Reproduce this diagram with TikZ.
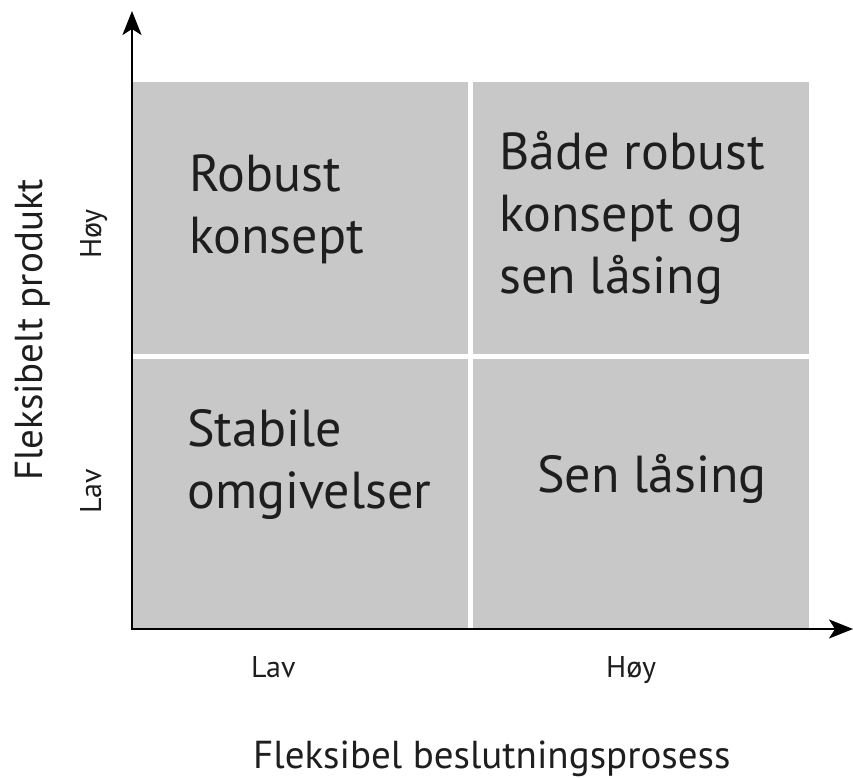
\documentclass[tikz,border=0pt]{standalone}
\usepackage{fontspec}
\setmainfont{PT Sans}
\usetikzlibrary{arrows.meta}
\definecolor{quadgrey}{RGB}{200,200,200}
\definecolor{inktext}{RGB}{30,30,30}
\tikzset{
  quadrant/.style={fill=quadgrey, draw=none},
  axis/.style={line width=2.2pt, draw=black, -{Stealth[length=24pt,width=19pt,inset=6pt]}},
  bigtext/.style={font=\fontsize{52}{62}\selectfont, text=inktext, inner sep=0pt, anchor=base west, align=left},
  ticklabel/.style={font=\fontsize{30}{34}\selectfont, text=inktext, inner sep=0pt},
  axislabel/.style={font=\fontsize{39}{44}\selectfont, text=inktext, inner sep=0pt},
}
\begin{document}
\begin{tikzpicture}[x=1pt,y=-1pt]
  \useasboundingbox (0,0) rectangle (853,778);
  % four grey quadrants separated by white gaps
  \fill[quadrant] (133,82) rectangle (467.5,353.5);
  \fill[quadrant] (472.5,82) rectangle (809,353.5);
  \fill[quadrant] (133,358.5) rectangle (467.5,628);
  \fill[quadrant] (472.5,358.5) rectangle (809,628);

  % axes
  \coordinate (origin) at (132,629);
  \coordinate (ytip) at (132,11);
  \coordinate (xtip) at (853,629);
  \coordinate (xstart) at (131,629);
  \draw[axis] (origin) -- (ytip);
  \draw[axis] (xstart) -- (xtip);

  % quadrant texts (anchored on the baseline of the last line)
  \node[bigtext] (robust) at (189,253) {Robust\\konsept};
  \node[bigtext] (begge) at (499,293) {Både robust\\konsept og\\sen låsing};
  \node[bigtext] (stabile) at (187,508) {Stabile\\omgivelser};
  \node[bigtext] (sen) at (537,492) {Sen låsing};

  % tick labels
  \node[ticklabel, anchor=base west] (xlav) at (251,677) {Lav};
  \node[ticklabel, anchor=base west] (xhoy) at (606,677) {Høy};
  \node[ticklabel, rotate=90, anchor=base] (ylav) at (101,491) {Lav};
  \node[ticklabel, rotate=90, anchor=base] (yhoy) at (101,234) {Høy};

  % axis titles
  \node[axislabel, anchor=base west] (xtitle) at (253,768) {Fleksibel beslutningsprosess};
  \node[axislabel, rotate=90, anchor=base] (ytitle) at (42,330) {Fleksibelt produkt};
\end{tikzpicture}
\end{document}
